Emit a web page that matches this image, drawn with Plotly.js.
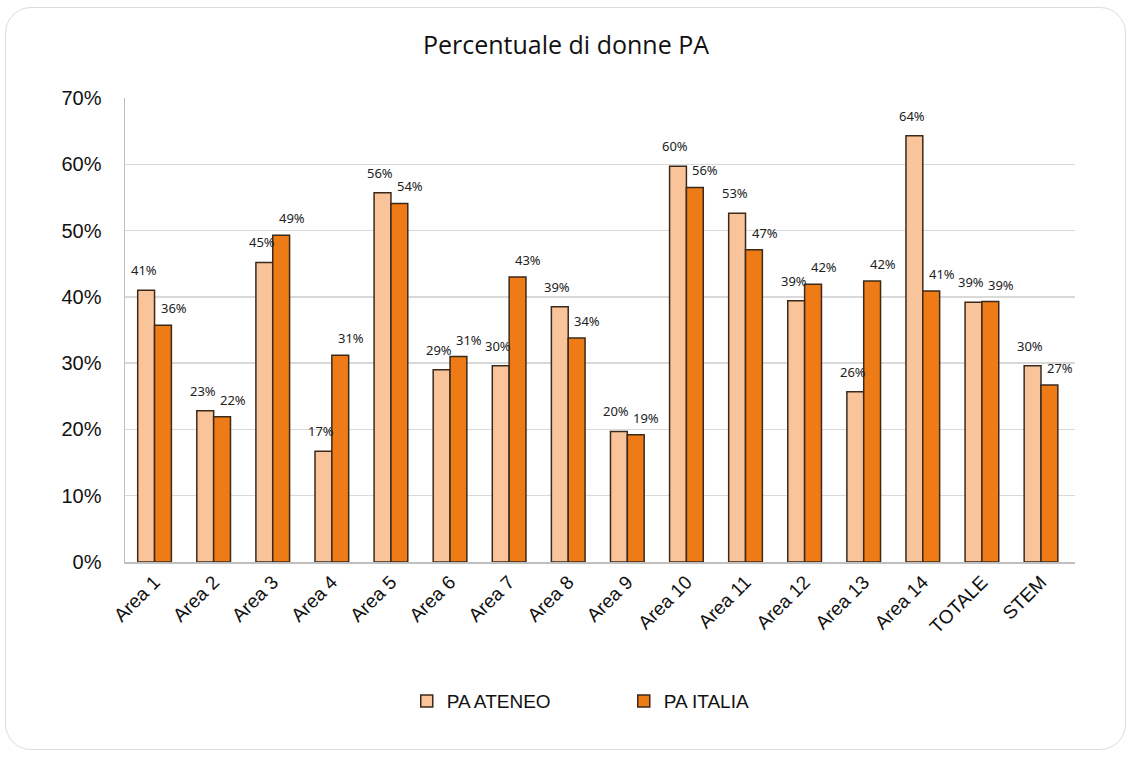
<!DOCTYPE html>
<html><head><meta charset="utf-8">
<script src="https://cdn.plot.ly/plotly-3.0.1.min.js"></script>
<style>
html,body{margin:0;padding:0;background:#fff;}
#wrap{position:relative;width:1132px;height:757px;}
#chart{position:absolute;left:0;top:0;width:1132px;height:757px;}
#frame{position:absolute;left:5px;top:7px;width:1119px;height:741px;border:1.5px solid #dcdcdc;border-radius:26px;pointer-events:none;}
</style></head>
<body><div id="wrap"><div id="chart"></div><div id="frame"></div></div>
<script>
const categories = ["Area 1","Area 2","Area 3","Area 4","Area 5","Area 6","Area 7","Area 8","Area 9","Area 10","Area 11","Area 12","Area 13","Area 14","TOTALE","STEM"];
const paAteneo = [0.410,0.228,0.452,0.167,0.557,0.290,0.296,0.385,0.197,0.597,0.526,0.394,0.257,0.643,0.392,0.296];
const paItalia = [0.357,0.219,0.493,0.312,0.541,0.310,0.430,0.338,0.192,0.565,0.471,0.419,0.424,0.409,0.393,0.267];
const seriesNames = ["PA ATENEO","PA ITALIA"];

const lineCol = '#3b2a1c';
const traces = [
  {type:'bar', name:seriesNames[0], x:categories, y:paAteneo,
   marker:{color:'#F9C499', line:{color:lineCol, width:1.5}}},
  {type:'bar', name:seriesNames[1], x:categories, y:paItalia,
   marker:{color:'#EE7B16', line:{color:lineCol, width:1.5}}}
];

const annotations = [];
const labFont = {family:'Noto Sans, Open Sans, sans-serif', size:13, color:'#222'};
paAteneo.forEach((v,i)=>annotations.push({x:categories[i], y:v, xref:'x', yref:'y', text:Math.round(v*100)+'%',
  showarrow:false, xshift:-11, yshift:20, font:labFont}));
paItalia.forEach((v,i)=>annotations.push({x:categories[i], y:v, xref:'x', yref:'y', text:Math.round(v*100)+'%',
  showarrow:false, xshift:19, yshift:17, font:labFont}));

const layout = {
  width:1132, height:757,
  margin:{l:125, r:57, t:98, b:195},
  paper_bgcolor:'rgba(0,0,0,0)', plot_bgcolor:'#fff',
  title:{text:'Percentuale di donne PA', x:0.5, xanchor:'center', y:0.94, yanchor:'middle',
         font:{family:'Open Sans, sans-serif', size:25, color:'#111'}},
  barmode:'group', bargap:0.43, bargroupgap:0,
  xaxis:{type:'category', tickangle:-45, showgrid:false, showline:true, linecolor:'#bfbfbf', linewidth:1.5,
         ticks:'', tickfont:{family:'Liberation Sans, Arial, sans-serif', size:19, color:'#111'}},
  yaxis:{range:[0,0.7], dtick:0.1, tickformat:'.0%', showgrid:true, gridcolor:'#d9d9d9', gridwidth:1.5,
         showline:true, linecolor:'#bfbfbf', linewidth:1.5, zeroline:false, ticks:'', ticklen:0,
         ticklabelstandoff:18,
         tickfont:{family:'Liberation Sans, Arial, sans-serif', size:20, color:'#111'}},
  showlegend:true,
  legend:{orientation:'h', x:0.525, xanchor:'center', y:-0.30, yanchor:'middle',
          font:{family:'Liberation Sans, Arial, sans-serif', size:19, color:'#111'}, itemwidth:20,
          entrywidth:172, traceorder:'normal'},
  annotations:annotations
};
Plotly.newPlot('chart', traces, layout, {displayModeBar:false, staticPlot:true});
</script></body></html>
